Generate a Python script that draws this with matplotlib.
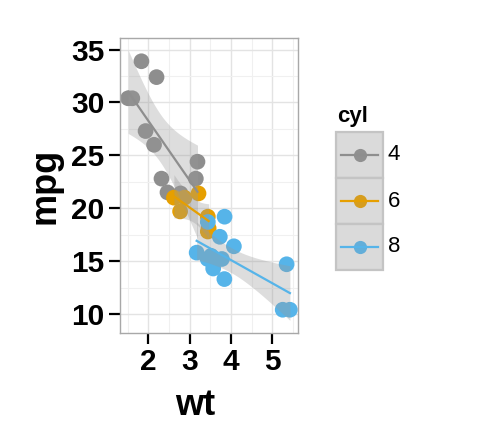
import numpy as np
import matplotlib
matplotlib.use("Agg")
import matplotlib.pyplot as plt
from matplotlib.patches import Rectangle
from matplotlib.lines import Line2D

plt.rcParams['font.family'] = ['Liberation Sans', 'DejaVu Sans']

# mtcars: wt, mpg, cyl
wt = [2.620, 2.875, 2.320, 3.215, 3.440, 3.460, 3.570, 3.190, 3.150, 3.440, 3.440,
      4.070, 3.730, 3.780, 5.250, 5.424, 5.345, 2.200, 1.615, 1.835, 2.465, 3.520,
      3.435, 3.840, 3.845, 1.935, 2.140, 1.513, 3.170, 2.770, 3.570, 2.780]
mpg = [21.0, 21.0, 22.8, 21.4, 18.7, 18.1, 14.3, 24.4, 22.8, 19.2, 17.8,
       16.4, 17.3, 15.2, 10.4, 10.4, 14.7, 32.4, 30.4, 33.9, 21.5, 15.5,
       15.2, 13.3, 19.2, 27.3, 26.0, 30.4, 15.8, 19.7, 15.0, 21.4]
cyl = [6, 6, 4, 6, 8, 6, 8, 4, 4, 6, 6,
       8, 8, 8, 8, 8, 8, 4, 4, 4, 4, 8,
       8, 8, 8, 4, 4, 4, 8, 6, 8, 4]
groups = [4, 6, 8]
colors = {4: '#8E8E8E', 6: '#E69F00', 8: '#56B4E9'}
t_quantile = {4: 2.262, 6: 2.571, 8: 2.179}  # 95% t for df = n-2

wt = np.array(wt); mpg = np.array(mpg); cyl = np.array(cyl)

W, H = 480, 441
fig = plt.figure(figsize=(4.8, 4.41), dpi=100)
ax = fig.add_axes([120/W, 1-333/H, (298-120)/W, (333-38)/H])
ax.set_facecolor('white')

# points
for g in groups:
    m = cyl == g
    ax.scatter(wt[m], mpg[m], s=128, color=colors[g], edgecolor='none', zorder=2)

# smooth lines with CI
z = 3
for g in groups:
    m = cyl == g
    x = wt[m]; y = mpg[m]
    n = len(x)
    b1, b0 = np.polyfit(x, y, 1)
    resid = y - (b0 + b1 * x)
    s = np.sqrt(np.sum(resid**2) / (n - 2))
    xs = np.linspace(x.min(), x.max(), 80)
    ys = b0 + b1 * xs
    se = s * np.sqrt(1/n + (xs - x.mean())**2 / np.sum((x - x.mean())**2))
    t = t_quantile[g]
    ax.fill_between(xs, ys - t*se, ys + t*se, color='#999999', alpha=0.33,
                    linewidth=0, zorder=z)
    ax.plot(xs, ys, color=colors[g], lw=1.6, zorder=z+1)
    z += 2

ax.set_xlim(1.317, 5.62)
ax.set_ylim(8.2, 36.1)
ax.set_xticks([2, 3, 4, 5])
ax.set_yticks([10, 15, 20, 25, 30, 35])
ax.set_xticks([1.5, 2.5, 3.5, 4.5, 5.5], minor=True)
ax.set_yticks([12.5, 17.5, 22.5, 27.5, 32.5], minor=True)
ax.grid(True, which='major', color='#E3E3E3', lw=1.0, zorder=0)
ax.grid(True, which='minor', color='#F0F0F0', lw=0.8, zorder=0)
ax.set_axisbelow(True)
for sp in ax.spines.values():
    sp.set_color('#A8A8A8')
    sp.set_linewidth(1.0)
ax.tick_params(which='major', length=8, width=1.6, color='black', direction='out',
               labelsize=21.5, pad=3)
ax.tick_params(which='minor', length=0)
for lab in ax.get_xticklabels() + ax.get_yticklabels():
    lab.set_fontweight('bold')

def fx(px): return px / W
def fy(py): return 1 - py / H

fig.text(fx(195), fy(415), 'wt', fontsize=26, fontweight='bold', ha='center', va='baseline')
fig.text(fx(45), fy(186), 'mpg', fontsize=26, fontweight='bold', ha='center', va='center',
         rotation=90)

# legend (manual, in figure pixels)
fig.text(fx(337), fy(122), 'cyl', fontsize=16, fontweight='bold', ha='left', va='baseline')
key_top = 132
key_h = 46
for i, g in enumerate(groups):
    top = key_top + i * key_h
    rect = Rectangle((fx(336), fy(top + key_h)), fx(383) - fx(336), fy(top) - fy(top + key_h),
                     transform=fig.transFigure, facecolor='#EBEBEB', edgecolor='#C4C4C4',
                     lw=1.6, zorder=1)
    fig.add_artist(rect)
    cy = top + key_h / 2
    fig.add_artist(Line2D([fx(359.5)], [fy(cy)], marker='o', markersize=9.5,
                          color=colors[g], markeredgewidth=0, transform=fig.transFigure, zorder=2))
    shade = Rectangle((fx(337), fy(top + key_h - 1)), fx(382) - fx(337), fy(top + 1) - fy(top + key_h - 1),
                      transform=fig.transFigure, facecolor='#999999', alpha=0.2,
                      edgecolor='none', zorder=3)
    fig.add_artist(shade)
    fig.add_artist(Line2D([fx(341), fx(378)], [fy(cy), fy(cy)], color=colors[g], lw=1.6,
                          transform=fig.transFigure, zorder=4))
    fig.text(fx(388), fy(cy), str(g), fontsize=16, ha='left', va='center')

fig.savefig('out.png', dpi=100, facecolor='white')
